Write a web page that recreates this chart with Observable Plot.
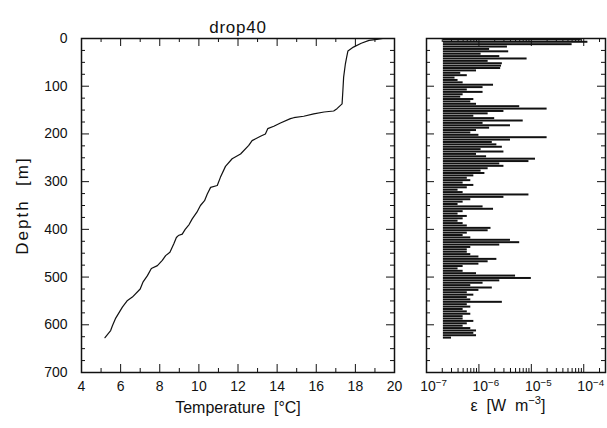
<!DOCTYPE html>
<html><head><meta charset="utf-8">
<script src="https://cdn.jsdelivr.net/npm/d3@7"></script>
<script src="https://cdn.jsdelivr.net/npm/@observablehq/plot@0.6"></script>
<style>
body{margin:0;background:#fff;}
#wrap{position:relative;width:607px;height:428px;overflow:hidden;background:#fff;}
#wrap svg{position:absolute;top:0;font-family:"Liberation Sans",Arial,sans-serif;}
</style></head><body><div id="wrap"></div>
<script>
const title = "drop40";
const xLabelLeft = "Temperature\u00a0 [°C]";
const yLabel = "Depth\u00a0 [m]";
const xLabelRight = "ε\u00a0 [W\u00a0 m^-3]";

// temperature profile
const tempDepth = [0,2,4,10,18,26,40,53,81,110,137,147,152,154,158,163,166,168,177,184,189,200,205,214,224,242,252,268,291,308,312,326,340,350,364,378,390,400,410,413,417,430,448,455,465,476,482,497,510,525,542,549,563,586,602,612,627];
const tempValue = [19.4,19.1,18.7,18.3,17.9,17.62,17.55,17.49,17.4,17.36,17.32,17.06,16.89,16.4,15.87,15.36,14.85,14.68,14.17,13.83,13.52,13.4,13.15,12.72,12.55,12.13,11.7,11.36,11.1,10.94,10.6,10.43,10.29,10.08,9.9,9.66,9.5,9.3,9.15,8.95,8.85,8.72,8.52,8.3,8.13,7.88,7.57,7.37,7.15,7.0,6.6,6.35,6.09,5.75,5.58,5.49,5.2];

// dissipation profile (5 m bins)
const epsDepth = [0,5,10,15,20,25,30,35,40,45,50,55,60,65,70,75,80,85,90,95,100,105,110,115,120,125,130,135,140,145,150,155,160,165,170,175,180,185,190,195,200,205,210,215,220,225,230,235,240,245,250,255,260,265,270,275,280,285,290,295,300,305,310,315,320,325,330,335,340,345,350,355,360,365,370,375,380,385,390,395,400,405,410,415,420,425,430,435,440,445,450,455,460,465,470,475,480,485,490,495,500,505,510,515,520,525,530,535,540,545,550,555,560,565,570,575,580,585,590,595,600,605,610,615,620,625];
const epsValue = [9e-5,1.2e-4,6e-5,3.5e-6,1.6e-6,3.7e-6,1.1e-6,2.5e-6,8.3e-6,1.5e-6,2.8e-6,2.7e-6,2.6e-6,9e-7,4.5e-7,6e-7,3.5e-7,4e-7,5e-7,1.9e-6,1.2e-6,6e-7,1.2e-6,5e-7,4.5e-7,8e-7,7e-7,9e-7,6e-6,2e-5,3e-6,1.5e-6,8e-7,2e-6,7e-6,1.2e-6,4e-6,1.6e-6,9e-7,7e-7,1e-6,2e-5,4e-6,1.8e-6,2.2e-6,2.8e-6,1.1e-6,3e-6,9e-7,1.4e-6,1.2e-5,9e-6,2.5e-6,3e-6,1.5e-6,1.1e-6,1.3e-6,8e-7,6e-7,7e-7,5e-7,8e-7,6e-7,4e-7,5e-7,9e-6,3e-6,7e-7,5e-7,4e-7,1.2e-6,1.9e-6,5e-7,4e-7,6e-7,5e-7,4e-7,5e-7,6e-7,1.7e-6,1.5e-6,6e-7,5e-7,7e-7,4e-6,6e-6,2.5e-6,7e-7,6e-7,6e-7,7e-7,1e-6,2.2e-6,1.5e-6,1e-6,5e-7,4e-7,5e-7,9e-7,5e-6,1e-5,2.5e-6,1.2e-6,7e-7,1.8e-6,1e-6,6e-7,8e-7,6e-7,7e-7,2.8e-6,6e-7,7e-7,5e-7,6e-7,7e-7,5e-7,5e-7,8e-7,6e-7,5e-7,7e-7,9e-7,8e-7,9e-7,3e-7];
const epsBase = 2.1e-7;
const epsBin = 5;

// ticks
const tempTicks = [4,6,8,10,12,14,16,18,20];
const tempMinor = [5,7,9,11,13,15,17,19];
const depthTicks = [0,100,200,300,400,500,600,700];
const depthMinor = [25,50,75,125,150,175,225,250,275,325,350,375,425,450,475,525,550,575,625,650,675];
const epsTicks = [1e-7,1e-6,1e-5,1e-4];
const epsExp = [-7,-6,-5,-4];
const epsMinor = [2e-7,3e-7,4e-7,5e-7,6e-7,7e-7,8e-7,9e-7,2e-6,3e-6,4e-6,5e-6,6e-6,7e-6,8e-6,9e-6,2e-5,3e-5,4e-5,5e-5,6e-5,7e-5,8e-5,9e-5,2e-4];

const temp = tempDepth.map((d,i)=>({d, t: tempValue[i]}));
const eps = epsDepth.map((d,i)=>({d, v: epsValue[i]}));

const H = 428, mT = 38, mB = 56;
const innerH = H - mT - mB;
const MAJ = 8, MIN = 4;

function tickMarks(xMajor, xMinor, yMajor, yMinor, innerW){
  return [
    Plot.tickX(xMajor, {x: d=>d, insetTop: innerH-MAJ, stroke:"#111"}),
    Plot.tickX(xMajor, {x: d=>d, insetBottom: innerH-MAJ, stroke:"#111"}),
    Plot.tickX(xMinor, {x: d=>d, insetTop: innerH-MIN, stroke:"#111"}),
    Plot.tickX(xMinor, {x: d=>d, insetBottom: innerH-MIN, stroke:"#111"}),
    Plot.tickY(yMajor, {y: d=>d, insetRight: innerW-MAJ, stroke:"#111"}),
    Plot.tickY(yMajor, {y: d=>d, insetLeft: innerW-MAJ, stroke:"#111"}),
    Plot.tickY(yMinor, {y: d=>d, insetRight: innerW-MIN, stroke:"#111"}),
    Plot.tickY(yMinor, {y: d=>d, insetLeft: innerW-MIN, stroke:"#111"})
  ];
}

const wL = 410, mLL = 81, mRL = 16;
const left = Plot.plot({
  width: wL, height: H, marginLeft: mLL, marginRight: mRL, marginTop: mT, marginBottom: mB,
  style: {fontFamily: "'Liberation Sans', Arial, sans-serif", color: "#111", background: "transparent"},
  x: {domain: [4, 20]},
  y: {domain: [0, 700], reverse: true},
  marks: [
    Plot.line(temp, {x: "t", y: "d", stroke: "#111", strokeWidth: 1.2}),
    ...tickMarks(tempTicks, tempMinor, depthTicks, depthMinor, wL-mLL-mRL),
    Plot.frame({stroke: "#111", strokeWidth: 1.5}),
    Plot.axisX(tempTicks, {anchor: "bottom", tickSize: 0, tickPadding: 9, fontSize: 14, label: null}),
    Plot.axisY(depthTicks, {anchor: "left", tickSize: 0, tickPadding: 14, fontSize: 14, label: null}),
    Plot.text([xLabelLeft], {frameAnchor: "bottom", dy: 40, fontSize: 16, fill: "#111"}),
    Plot.text([yLabel], {frameAnchor: "left", textAnchor: "middle", dx: -59, rotate: -90, fontSize: 17, fill: "#111"}),
    Plot.text([title], {frameAnchor: "top", dy: -18, fontSize: 17, fill: "#111"})
  ]
});
left.style.left = "0px";
d3.select(left).selectAll("text").filter(function(){ return this.textContent === yLabel; })
  .attr("letter-spacing", "2px");
d3.select(left).selectAll("text").filter(function(){ return this.textContent === title; })
  .attr("letter-spacing", "0.8px");

const wR = 197, mLR = 16, mRR = 2;
const right = Plot.plot({
  width: wR, height: H, marginLeft: mLR, marginRight: mRR, marginTop: mT, marginBottom: mB,
  style: {fontFamily: "'Liberation Sans', Arial, sans-serif", color: "#111", background: "transparent"},
  x: {type: "log", domain: [1e-7, 2.6e-4]},
  y: {domain: [0, 700], reverse: true, axis: null},
  marks: [
    Plot.rectX(eps, {x1: () => epsBase, x2: "v", y1: "d", y2: d => d.d + epsBin, insetTop: 0.4, fill: "#111"}),
    ...tickMarks(epsTicks, epsMinor, depthTicks, depthMinor, wR-mLR-mRR),
    Plot.frame({stroke: "#111", strokeWidth: 1.5}),
    Plot.axisX(epsTicks, {anchor: "bottom", tickSize: 0, tickPadding: 9, fontSize: 14, dx: 7, label: null,
      tickFormat: d => "10^" + epsExp[epsTicks.indexOf(d)]}),
    Plot.text([xLabelRight], {frameAnchor: "bottom", dy: 38, dx: -8, fontSize: 16, fill: "#111"})
  ]
});
right.style.left = "410px";

function supify(svg){
  d3.select(svg).selectAll("text").each(function(){
    const el = d3.select(this);
    const s = this.textContent;
    const m = s.match(/^(.*?)\^(-?\d+)(.*)$/);
    if (!m) return;
    el.text(null);
    el.append("tspan").text(m[1]);
    el.append("tspan").attr("dy", "-0.55em").attr("font-size", "0.7em").text(m[2].replace("-", "\u2212"));
    if (m[3]) el.append("tspan").attr("dy", "0.385em").text(m[3]);
  });
}
supify(right);

const wrap = document.getElementById("wrap");
wrap.appendChild(left);
wrap.appendChild(right);
</script></body></html>
